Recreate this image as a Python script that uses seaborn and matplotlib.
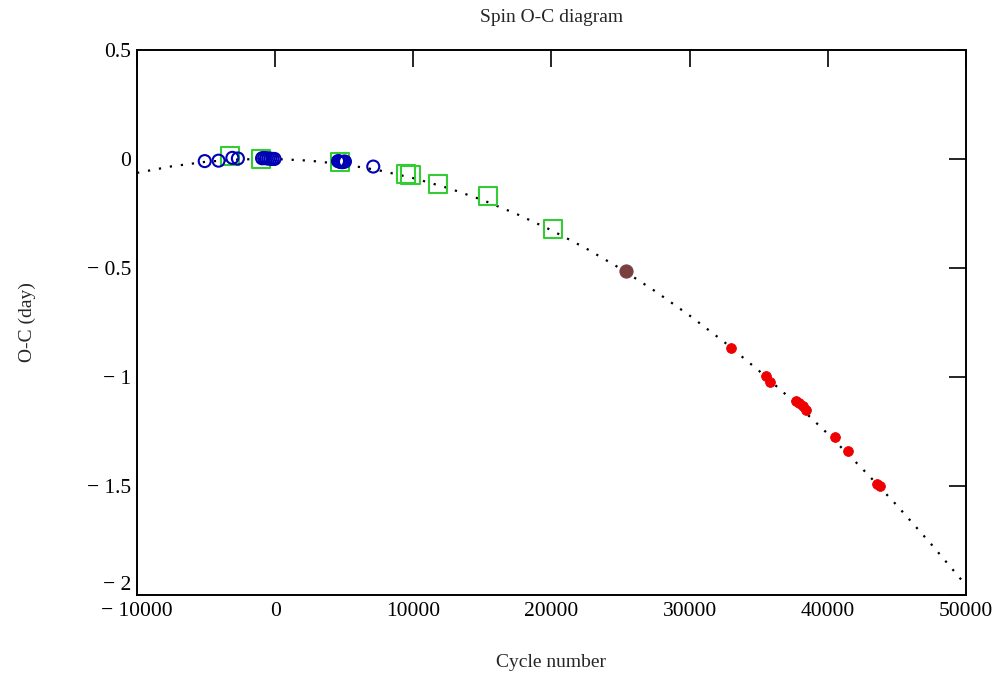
import matplotlib
matplotlib.use("Agg")
import matplotlib.pyplot as plt
import seaborn as sns
import pandas as pd

sns.set_style("white")
plt.rcParams["font.family"] = ["Liberation Serif", "DejaVu Serif"]

# ======================
# DATA
# ======================
blue_cycle = [-5100, -4100, -3100, -2700, -950, -800, -650, -500, -350,
              -200, -50, 4550, 4650, 4750, 4850, 4950, 5050, 7100]
blue_oc = [-0.010, -0.008, 0.005, 0.002, 0.003, 0.004, 0.003, 0.002, 0.001,
           0.000, 0.000, -0.010, -0.012, -0.014, -0.015, -0.013, -0.012, -0.035]

green_cycle = [-3300, -1000, 4700, 9500, 9800, 11800, 15400, 20100]
green_oc = [0.012, -0.002, -0.015, -0.070, -0.075, -0.115, -0.170, -0.320]

brown_cycle = [25400]
brown_oc = [-0.515]

red_cycle = [33000, 35500, 35850, 37700, 37900, 38200, 38400,
             40500, 41500, 43600, 43800]
red_oc = [-0.865, -0.995, -1.025, -1.110, -1.120, -1.135, -1.150,
          -1.275, -1.340, -1.490, -1.500]

# dotted fit curve
fit_cycle = [-10000, -7500, -5000, -2500, 0, 2500, 5000, 7500, 10000, 12500,
             15000, 17500, 20000, 22500, 25000, 27500, 30000, 32500, 35000,
             37500, 40000, 42500, 45000, 47500, 50000]
fit_oc = [-0.064, -0.034, -0.013, -0.002, 0.000, -0.008, -0.025, -0.052,
          -0.088, -0.133, -0.188, -0.253, -0.327, -0.410, -0.503, -0.606,
          -0.718, -0.839, -0.970, -1.110, -1.260, -1.420, -1.588, -1.767,
          -1.954]

xticks = [-10000, 0, 10000, 20000, 30000, 40000, 50000]
xtick_labels = ["\u2212 10000", "0", "10000", "20000", "30000", "40000", "50000"]
yticks = [0.5, 0, -0.5, -1, -1.5, -2]
ytick_labels = ["0.5", "0", "\u2212 0.5", "\u2212 1", "\u2212 1.5", "\u2212 2"]

fit_df = pd.DataFrame({"Cycle": fit_cycle, "OC": fit_oc})
blue_df = pd.DataFrame({"Cycle": blue_cycle, "OC": blue_oc})
green_df = pd.DataFrame({"Cycle": green_cycle, "OC": green_oc})
brown_df = pd.DataFrame({"Cycle": brown_cycle, "OC": brown_oc})
red_df = pd.DataFrame({"Cycle": red_cycle, "OC": red_oc})

# ======================
# PLOTTING
# ======================
fig = plt.figure(figsize=(10.04, 6.88), dpi=100)
ax = fig.add_axes([0.1365, 0.135, 0.8255, 0.7925])

sns.lineplot(data=fit_df, x="Cycle", y="OC", color="black",
             linestyle=(0, (1, 4)), linewidth=1.6, ax=ax, zorder=1)
sns.scatterplot(data=blue_df, x="Cycle", y="OC", marker="o", s=75,
                facecolors="none", edgecolor="#0000b4", linewidth=1.5,
                ax=ax, zorder=3)
sns.scatterplot(data=green_df, x="Cycle", y="OC", marker="s", s=170,
                facecolors="none", edgecolor="#33cc33", linewidth=1.5,
                ax=ax, zorder=2)
sns.scatterplot(data=brown_df, x="Cycle", y="OC", marker="o", s=90,
                color="#7a4040", edgecolor="#7a4040", ax=ax, zorder=3)
sns.scatterplot(data=red_df, x="Cycle", y="OC", marker="o", s=50,
                color="#ee0000", edgecolor="#ee0000", ax=ax, zorder=3)

ax.set_xlim(-10000, 50000)
ax.set_ylim(-2, 0.5)
ax.set_xticks(xticks)
ax.set_xticklabels(xtick_labels)
ax.set_yticks(yticks)
ax.set_yticklabels(ytick_labels)
ax.tick_params(direction="in", length=12, width=1.2, labelsize=15.5,
               top=True, right=True, colors="black")
ax.tick_params(axis="x", pad=5)
ax.tick_params(axis="y", pad=4)
# lift the lowest y label a little so it clears the first x label
ax.get_yticklabels()[-1].set_va("bottom")
for s in ax.spines.values():
    s.set_linewidth(1.4)
    s.set_color("black")

ax.set_title("Spin O-C diagram", fontsize=14, pad=20)
ax.set_xlabel("Cycle number", fontsize=14, labelpad=24)
ax.set_ylabel("O-C (day)", fontsize=14, labelpad=37)

# ======================
# SAVE
# ======================
plt.savefig("out.png", dpi=100)
plt.close()
